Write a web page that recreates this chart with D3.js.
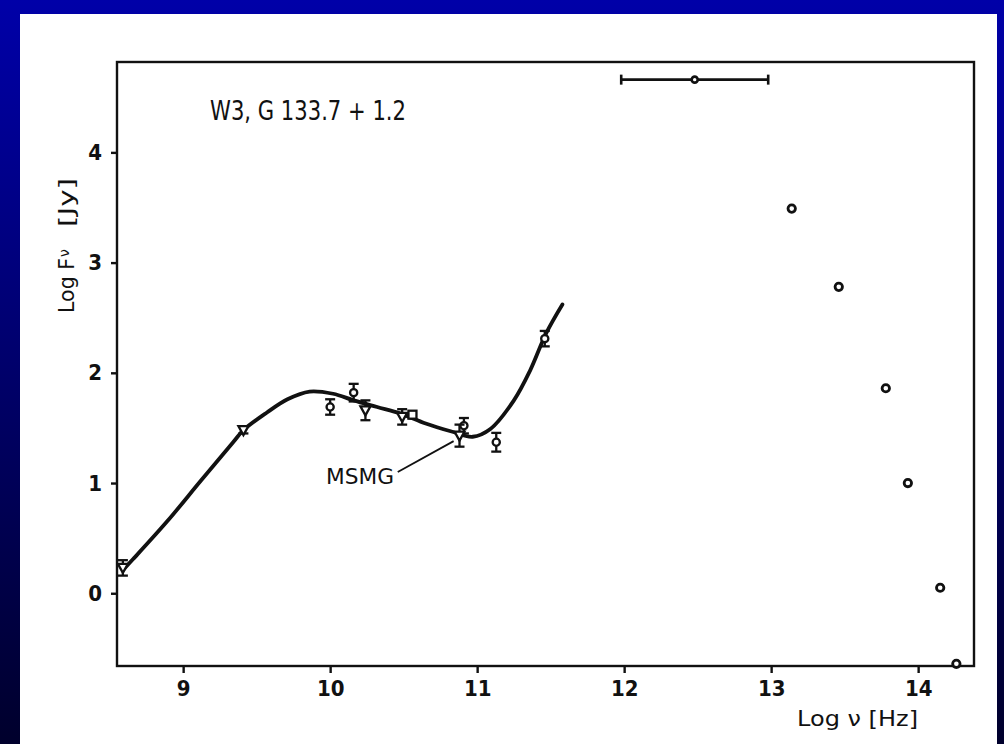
<!DOCTYPE html>
<html>
<head>
<meta charset="utf-8">
<script src="https://cdn.jsdelivr.net/npm/d3@7"></script>
<style>
  html, body { margin: 0; padding: 0; }
  body { width: 1004px; height: 744px; overflow: hidden; }
  text { font-family: "DejaVu Sans", "Liberation Sans", sans-serif; fill: #111; }
</style>
</head>
<body>
<svg id="chart" width="1004" height="744"></svg>
<script>
// Radio measurements (log nu [Hz], log F_nu [Jy]) with symmetric errors and symbol kind
const radioX   = [8.59, 9.41, 10.00, 10.16, 10.24, 10.49, 10.56, 10.91, 10.88, 11.13, 11.46];
const radioY   = [0.23, 1.48, 1.69, 1.82, 1.66, 1.60, 1.62, 1.52, 1.43, 1.37, 2.31];
const radioErr = [0.07, 0.03, 0.07, 0.08, 0.09, 0.07, 0.00, 0.07, 0.10, 0.085, 0.07];
const radioSym = ["tri", "tri", "circ", "circ", "tri", "tri", "sq", "circ", "tri", "circ", "circ"];

// Infrared photometry
const irX = [13.14, 13.46, 13.78, 13.93, 14.15, 14.26];
const irY = [3.49, 2.78, 1.86, 1.00, 0.05, -0.64];

// Far-infrared point with a horizontal band
const firX = [12.48];
const firY = [4.66];
const firLo = [11.98];
const firHi = [12.98];

// MSMG model curve
const modelX = [8.59, 8.66, 8.89, 9.12, 9.34, 9.41, 9.57, 9.71, 9.86, 10.02, 10.16, 10.32, 10.48, 10.65, 10.82, 10.97, 11.09, 11.25, 11.36, 11.47, 11.58];
const modelY = [0.21, 0.31, 0.65, 1.02, 1.37, 1.48, 1.64, 1.76, 1.83, 1.81, 1.75, 1.69, 1.63, 1.54, 1.47, 1.42, 1.49, 1.75, 2.02, 2.36, 2.62];

const xTicks = [9, 10, 11, 12, 13, 14];
const yTicks = [0, 1, 2, 3, 4];

const svg = d3.select("#chart");

// page background and white sheet
const defs = svg.append("defs");
const grad = defs.append("linearGradient").attr("id", "bg").attr("x1", 0).attr("y1", 0).attr("x2", 0).attr("y2", 1);
grad.append("stop").attr("offset", "0%").attr("stop-color", "#0000a8");
grad.append("stop").attr("offset", "100%").attr("stop-color", "#00002c");
svg.append("rect").attr("width", 1004).attr("height", 744).attr("fill", "url(#bg)");
svg.append("rect").attr("x", 20).attr("y", 14).attr("width", 977).attr("height", 730).attr("fill", "#ffffff");

const plotL = 117, plotR = 974, plotT = 62, plotB = 666;
const x = d3.scaleLinear().domain([8.55, 14.38]).range([plotL, plotR]);
const y = d3.scaleLinear().domain([-0.66, 4.82]).range([plotB, plotT]);

// axes
const xAxis = d3.axisBottom(x).tickValues(xTicks).tickSize(7).tickPadding(7).tickFormat(d3.format("d"));
const yAxis = d3.axisLeft(y).tickValues(yTicks).tickSize(6).tickPadding(9).tickFormat(d3.format("d"));

const gx = svg.append("g").attr("transform", `translate(0,${plotB})`).call(xAxis);
const gy = svg.append("g").attr("transform", `translate(${plotL},0)`).call(yAxis);
[gx, gy].forEach(g => {
  g.select(".domain").remove();
  g.selectAll(".tick line").attr("stroke", "#111").attr("stroke-width", 2.4);
  g.selectAll(".tick text").attr("font-size", 22).attr("font-weight", "bold").attr("fill", "#111")
    .style("font-family", "'DejaVu Sans Condensed','Liberation Sans Narrow',sans-serif");
});

// frame
svg.append("rect").attr("x", plotL).attr("y", plotT).attr("width", plotR - plotL).attr("height", plotB - plotT)
  .attr("fill", "none").attr("stroke", "#111").attr("stroke-width", 2.4);

// axis titles
svg.append("text").attr("x", 797).attr("y", 726).attr("font-size", 22)
  .attr("textLength", 121).attr("lengthAdjust", "spacingAndGlyphs").text("Log ν  [Hz]");

const yl = svg.append("g").attr("transform", "translate(74,313) rotate(-90)");
yl.append("text").attr("x", 0).attr("y", 0).attr("font-size", 22).attr("textLength", 55)
  .attr("lengthAdjust", "spacingAndGlyphs").text("Log F");
yl.append("text").attr("x", 56).attr("y", -5).attr("font-size", 14).text("ν");
yl.append("text").attr("x", 86).attr("y", 0).attr("font-size", 22).attr("textLength", 49)
  .attr("lengthAdjust", "spacingAndGlyphs").text("[Jy]");

// source label
svg.append("text").attr("x", 210).attr("y", 120).attr("font-size", 26).attr("textLength", 196)
  .attr("lengthAdjust", "spacingAndGlyphs").text("W3,  G 133.7 + 1.2");

// model curve
const model = modelX.map((v, i) => [v, modelY[i]]);
svg.append("path").datum(model)
  .attr("d", d3.line().x(d => x(d[0])).y(d => y(d[1])).curve(d3.curveCatmullRom.alpha(0.5)))
  .attr("fill", "none").attr("stroke", "#111").attr("stroke-width", 3.8).attr("stroke-linecap", "round");

// MSMG label and leader
svg.append("text").attr("x", 326).attr("y", 484).attr("font-size", 22).attr("textLength", 68)
  .attr("lengthAdjust", "spacingAndGlyphs").text("MSMG");
svg.append("line").attr("x1", x(10.46)).attr("y1", y(1.10)).attr("x2", x(10.84)).attr("y2", y(1.38))
  .attr("stroke", "#111").attr("stroke-width", 1.8);

// radio points with error bars
const radio = radioX.map((v, i) => ({ x: v, y: radioY[i], e: radioErr[i], s: radioSym[i] }));
const rg = svg.append("g").attr("stroke", "#111").attr("stroke-width", 2.3);
radio.forEach(d => {
  const cx = x(d.x), cy = y(d.y);
  if (d.e > 0) {
    const y1 = y(d.y + d.e), y2 = y(d.y - d.e);
    rg.append("line").attr("x1", cx).attr("x2", cx).attr("y1", y1).attr("y2", y2);
    rg.append("line").attr("x1", cx - 5).attr("x2", cx + 5).attr("y1", y1).attr("y2", y1);
    rg.append("line").attr("x1", cx - 5).attr("x2", cx + 5).attr("y1", y2).attr("y2", y2);
  }
  if (d.s === "circ") {
    rg.append("circle").attr("cx", cx).attr("cy", cy).attr("r", 3.6).attr("fill", "#fff");
  } else if (d.s === "tri") {
    rg.append("path").attr("d", `M${cx - 5},${cy - 4}L${cx + 5},${cy - 4}L${cx},${cy + 5}Z`).attr("fill", "#fff");
  } else {
    rg.append("rect").attr("x", cx - 4).attr("y", cy - 4).attr("width", 8).attr("height", 8).attr("fill", "#fff");
  }
});

// infrared points
svg.append("g").selectAll("circle").data(irX.map((v, i) => [v, irY[i]])).join("circle")
  .attr("cx", d => x(d[0])).attr("cy", d => y(d[1])).attr("r", 3.7)
  .attr("fill", "#fff").attr("stroke", "#111").attr("stroke-width", 2.8);

// far-infrared point with horizontal range
const fg = svg.append("g").attr("stroke", "#111").attr("stroke-width", 2.6);
firX.forEach((v, i) => {
  const cy = y(firY[i]);
  fg.append("line").attr("x1", x(firLo[i])).attr("x2", x(firHi[i])).attr("y1", cy).attr("y2", cy);
  fg.append("line").attr("x1", x(firLo[i])).attr("x2", x(firLo[i])).attr("y1", cy - 5).attr("y2", cy + 5);
  fg.append("line").attr("x1", x(firHi[i])).attr("x2", x(firHi[i])).attr("y1", cy - 5).attr("y2", cy + 5);
  fg.append("circle").attr("cx", x(v)).attr("cy", cy).attr("r", 3).attr("fill", "#fff");
});
</script>
</body>
</html>
